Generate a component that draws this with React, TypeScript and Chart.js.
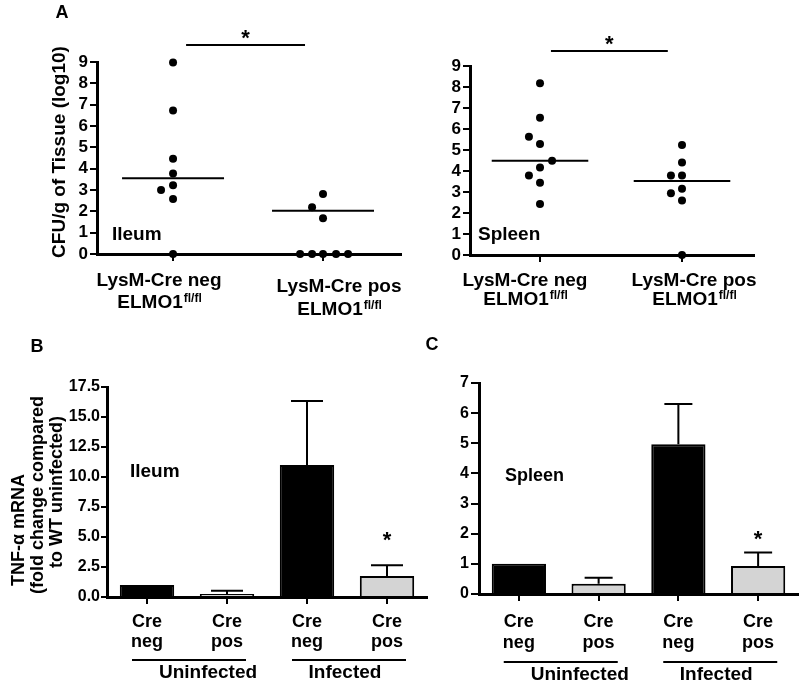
import React, { useEffect, useRef } from "react";
import { Chart, registerables } from "chart.js";

Chart.register(...registerables);

const FONT = '"Liberation Sans", Arial, Helvetica, sans-serif';
Chart.defaults.font.family = FONT;
Chart.defaults.color = "#000";

// ---------------- Panel A data (CFU/g of tissue, log10) ----------------
const groupLabelsA = ["LysM-Cre neg", "LysM-Cre pos"];
const genotypeText = "ELMO1";
const genotypeSup = "fl/fl";
const yTitleA = "CFU/g of Tissue (log10)";

const ileumNeg = [8.98, 6.73, 4.47, 3.77, 3.22, 3.0, 2.58, 0];
const ileumNegJitter = [0, 0, 0, 0, 0, -0.08, 0, 0];
const ileumPos = [2.81, 2.19, 1.67, 0, 0, 0, 0, 0];
const ileumPosJitter = [0, -0.073, 0, -0.153, -0.073, 0, 0.087, 0.167];
const ileumMedian = [3.55, 2.03];

const spleenNeg = [8.18, 6.54, 5.63, 5.29, 4.49, 4.17, 3.78, 3.44, 2.43];
const spleenNegJitter = [0, 0, -0.078, 0, 0.085, 0, -0.078, 0, 0];
const spleenPos = [5.24, 4.4, 3.78, 3.78, 3.16, 2.94, 2.59, 0];
const spleenPosJitter = [0, 0, -0.078, 0, 0, -0.078, 0, 0];
const spleenMedian = [4.49, 3.52];

// ---------------- Panel B / C data (TNF-α mRNA fold change) ----------------
const barGroups = ["Cre neg", "Cre pos", "Cre neg", "Cre pos"];
const infectionGroups = ["Uninfected", "Infected"];
const ileumTNF = [1.0, 0.25, 11.0, 1.75];
const ileumTNFsem = [0, 0.27, 5.33, 0.89];
const spleenTNF = [1.0, 0.34, 4.97, 0.93];
const spleenTNFsem = [0, 0.2, 1.33, 0.45];
const barColors = ["#000000", "#d4d4d4", "#000000", "#d4d4d4"];
const yTitleB = ["TNF-α mRNA", "(fold change compared", "to WT uninfected)"];

// ---------------- drawing helpers ----------------
function txt(ctx: CanvasRenderingContext2D, s: string, x: number, y: number, size: number, align: CanvasTextAlign = "center") {
  ctx.save();
  ctx.font = `bold ${size}px ${FONT}`;
  ctx.fillStyle = "#000";
  ctx.textAlign = align;
  ctx.textBaseline = "alphabetic";
  ctx.fillText(s, x, y);
  ctx.restore();
}

function rotText(ctx: CanvasRenderingContext2D, s: string, cx: number, cy: number, size: number) {
  ctx.save();
  ctx.translate(cx, cy);
  ctx.rotate(-Math.PI / 2);
  ctx.font = `bold ${size}px ${FONT}`;
  ctx.fillStyle = "#000";
  ctx.textAlign = "center";
  ctx.textBaseline = "middle";
  ctx.fillText(s, 0, 0);
  ctx.restore();
}

function genotype(ctx: CanvasRenderingContext2D, cx: number, y: number) {
  ctx.save();
  ctx.fillStyle = "#000";
  ctx.textBaseline = "alphabetic";
  ctx.textAlign = "left";
  ctx.font = `bold 19px ${FONT}`;
  const w1 = ctx.measureText(genotypeText).width;
  ctx.font = `bold 12px ${FONT}`;
  const w2 = ctx.measureText(genotypeSup).width;
  const x0 = cx - (w1 + w2) / 2;
  ctx.font = `bold 19px ${FONT}`;
  ctx.fillText(genotypeText, x0, y);
  ctx.font = `bold 12px ${FONT}`;
  ctx.fillText(genotypeSup, x0 + w1 + 1, y - 6);
  ctx.restore();
}

function star(ctx: CanvasRenderingContext2D, cx: number, cy: number, size = 22) {
  txt(ctx, "*", cx, cy + 0.58 * size, size);
}

function hline(ctx: CanvasRenderingContext2D, x1: number, x2: number, y: number, w = 2) {
  ctx.save();
  ctx.strokeStyle = "#000";
  ctx.lineWidth = w;
  ctx.beginPath();
  ctx.moveTo(x1, y);
  ctx.lineTo(x2, y);
  ctx.stroke();
  ctx.restore();
}

// ---------------- Panel A: scatter with medians ----------------
type ScatterSpec = {
  neg: number[]; negJ: number[]; pos: number[]; posJ: number[]; med: number[];
  xMin: number; xMax: number; yw: number; xh: number; top: number; right: number;
  sig: number[]; sigY: number;
  labelDx: number[]; labelY: number[][];
  draw: (chart: any) => void;
};

function makeScatter(canvas: HTMLCanvasElement, p: ScatterSpec) {
  const pts = [
    ...p.neg.map((y, i) => ({ x: 1 + p.negJ[i], y })),
    ...p.pos.map((y, i) => ({ x: 2 + p.posJ[i], y })),
  ];
  const medLine = (c: number, m: number) => ({
    type: "line" as const,
    data: [{ x: c - 0.34, y: m }, { x: c + 0.34, y: m }],
    borderColor: "#000", borderWidth: 2, pointRadius: 0, clip: false as any,
  });
  return new Chart(canvas, {
    type: "scatter",
    data: {
      datasets: [
        { data: pts, pointRadius: 4, pointHoverRadius: 4, backgroundColor: "#000", borderColor: "#000", borderWidth: 0, clip: false as any },
        medLine(1, p.med[0]) as any,
        medLine(2, p.med[1]) as any,
        {
          type: "line",
          data: [{ x: p.sig[0], y: p.sigY }, { x: p.sig[1], y: p.sigY }],
          borderColor: "#000", borderWidth: 2, pointRadius: 0, clip: false as any,
        } as any,
      ],
    },
    options: {
      animation: false,
      responsive: false,
      events: [],
      layout: { padding: { top: p.top, right: p.right, left: 0, bottom: 0 } },
      plugins: { legend: { display: false }, tooltip: { enabled: false } },
      scales: {
        x: {
          type: "linear", min: p.xMin, max: p.xMax,
          afterBuildTicks: (s: any) => { s.ticks = [{ value: 1 }, { value: 2 }]; },
          ticks: { display: false },
          grid: { drawOnChartArea: false, drawTicks: true, tickLength: 7, color: "#000", lineWidth: 2 },
          border: { display: true, color: "#000", width: 3 },
          afterFit: (s: any) => { s.height = p.xh; },
        },
        y: {
          min: 0, max: 9,
          ticks: { stepSize: 1, autoSkip: false, padding: 2, color: "#000", font: { size: 17, weight: "bold" } },
          grid: { drawOnChartArea: false, drawTicks: true, tickLength: 7, color: "#000", lineWidth: 2 },
          border: { display: true, color: "#000", width: 3 },
          afterFit: (s: any) => { s.width = p.yw; },
        },
      },
    } as any,
    plugins: [{
      id: "annotA",
      afterDraw(chart: any) {
        const ctx = chart.ctx as CanvasRenderingContext2D;
        const xs = chart.scales.x, ys = chart.scales.y;
        groupLabelsA.forEach((lab, i) => {
          const cx = xs.getPixelForValue(i + 1) + p.labelDx[i];
          txt(ctx, lab, cx, p.labelY[i][0], 19);
          genotype(ctx, cx, p.labelY[i][1]);
        });
        const sx = (xs.getPixelForValue(p.sig[0]) + xs.getPixelForValue(p.sig[1])) / 2;
        star(ctx, sx, ys.getPixelForValue(p.sigY) - 13);
        p.draw(chart);
      },
    }],
  });
}

// ---------------- Panel B / C: bars with SEM ----------------
type BarSpec = {
  vals: number[]; sem: number[]; max: number; step: number; fmt: (v: number) => string;
  yw: number; xh: number; top: number; right: number; tickLen: number; tickPad: number;
  cap: number; starVal: number; catY: number[]; grpLineY: number; grpTextY: number;
  draw: (chart: any) => void;
};

function makeBars(canvas: HTMLCanvasElement, p: BarSpec) {
  return new Chart(canvas, {
    type: "bar",
    data: {
      labels: barGroups,
      datasets: [{
        data: p.vals,
        backgroundColor: barColors,
        borderColor: "#000",
        borderWidth: 2,
        barPercentage: 0.68,
        categoryPercentage: 1,
        borderSkipped: "bottom",
      }],
    },
    options: {
      animation: false,
      responsive: false,
      events: [],
      layout: { padding: { top: p.top, right: p.right, left: 0, bottom: 0 } },
      plugins: { legend: { display: false }, tooltip: { enabled: false } },
      scales: {
        x: {
          offset: true,
          ticks: { display: false },
          grid: { offset: false, drawOnChartArea: false, drawTicks: true, tickLength: 7, color: "#000", lineWidth: 2 },
          border: { display: true, color: "#000", width: 3 },
          afterFit: (s: any) => { s.height = p.xh; },
        },
        y: {
          min: 0, max: p.max,
          ticks: { stepSize: p.step, autoSkip: false, padding: p.tickPad, color: "#000", font: { size: 16, weight: "bold" }, callback: (v: any) => p.fmt(Number(v)) },
          grid: { drawOnChartArea: false, drawTicks: true, tickLength: p.tickLen, color: "#000", lineWidth: 2 },
          border: { display: true, color: "#000", width: 3 },
          afterFit: (s: any) => { s.width = p.yw; },
        },
      },
    } as any,
    plugins: [{
      id: "annotBars",
      afterDraw(chart: any) {
        const ctx = chart.ctx as CanvasRenderingContext2D;
        const xs = chart.scales.x, ys = chart.scales.y;
        const meta = chart.getDatasetMeta(0);
        // SEM error bars (upper only)
        meta.data.forEach((el: any, i: number) => {
          if (!p.sem[i]) return;
          const yTop = ys.getPixelForValue(p.vals[i] + p.sem[i]);
          ctx.save();
          ctx.strokeStyle = "#000";
          ctx.lineWidth = 2;
          ctx.beginPath();
          ctx.moveTo(el.x, el.y);
          ctx.lineTo(el.x, yTop);
          ctx.moveTo(el.x - p.cap / 2, yTop);
          ctx.lineTo(el.x + p.cap / 2, yTop);
          ctx.stroke();
          ctx.restore();
        });
        // significance star over last bar
        star(ctx, xs.getPixelForValue(3), ys.getPixelForValue(p.starVal));
        // category labels
        barGroups.forEach((g, i) => {
          const [a, b] = g.split(" ");
          const cx = xs.getPixelForValue(i);
          txt(ctx, a, cx, p.catY[0], 18);
          txt(ctx, b, cx, p.catY[1], 18);
        });
        // infection group lines + labels
        infectionGroups.forEach((g, k) => {
          const mid = (xs.getPixelForValue(2 * k) + xs.getPixelForValue(2 * k + 1)) / 2 + 2;
          hline(ctx, mid - 57, mid + 57, p.grpLineY, 2);
          txt(ctx, g, mid + (k === 0 ? 19 : -4), p.grpTextY, 19);
        });
        p.draw(chart);
      },
    }],
  });
}

// ---------------- React wrappers ----------------
function ChartCanvas(props: { left: number; top: number; width: number; height: number; make: (c: HTMLCanvasElement) => Chart }) {
  const ref = useRef<HTMLCanvasElement>(null);
  useEffect(() => {
    const chart = props.make(ref.current as HTMLCanvasElement);
    return () => chart.destroy();
  }, []);
  return (
    <canvas
      ref={ref}
      width={props.width}
      height={props.height}
      style={{ position: "absolute", left: props.left, top: props.top, width: props.width, height: props.height }}
    />
  );
}

export default function App() {
  return (
    <div style={{ position: "fixed", left: 0, top: 0, width: 800, height: 684, background: "#fff", overflow: "hidden" }}>
      <ChartCanvas
        left={0} top={0} width={405} height={320}
        make={(c) => makeScatter(c, {
          neg: ileumNeg, negJ: ileumNegJitter, pos: ileumPos, posJ: ileumPosJitter, med: ileumMedian,
          xMin: 0.493, xMax: 2.52, yw: 97, xh: 66, top: 62, right: 4,
          sig: [1.087, 1.88], sigY: 9.8,
          labelDx: [-14, 16], labelY: [[286, 308], [292, 315]],
          draw: (chart) => {
            const ctx = chart.ctx;
            txt(ctx, "A", 62, 18, 18);
            rotText(ctx, yTitleA, 60, 152, 19);
            txt(ctx, "Ileum", 112, 240, 19, "left");
          },
        })}
      />
      <ChartCanvas
        left={400} top={0} width={400} height={320}
        make={(c) => makeScatter(c, {
          neg: spleenNeg, negJ: spleenNegJitter, pos: spleenPos, posJ: spleenPosJitter, med: spleenMedian,
          xMin: 0.507, xMax: 2.507, yw: 70, xh: 65, top: 66, right: 46,
          sig: [1.077, 1.9], sigY: 9.71,
          labelDx: [-15, 12], labelY: [[286, 305], [286, 305]],
          draw: (chart) => {
            txt(chart.ctx, "Spleen", 78, 240, 19, "left");
          },
        })}
      />
      <ChartCanvas
        left={0} top={320} width={432} height={364}
        make={(c) => makeBars(c, {
          vals: ileumTNF, sem: ileumTNFsem, max: 17.5, step: 2.5, fmt: (v) => v.toFixed(1),
          yw: 107, xh: 87, top: 67, right: 5, tickLen: 6, tickPad: 1,
          cap: 32, starVal: 5.25, catY: [307, 327], grpLineY: 340, grpTextY: 358,
          draw: (chart) => {
            const ctx = chart.ctx;
            txt(ctx, "B", 37, 32, 18);
            rotText(ctx, yTitleB[0], 19, 210, 18);
            rotText(ctx, yTitleB[1], 38, 175, 18);
            rotText(ctx, yTitleB[2], 57, 172, 18);
            txt(ctx, "Ileum", 130, 157, 19, "left");
          },
        })}
      />
      <ChartCanvas
        left={420} top={320} width={380} height={364}
        make={(c) => makeBars(c, {
          vals: spleenTNF, sem: spleenTNFsem, max: 7, step: 1, fmt: (v) => String(v),
          yw: 59, xh: 90, top: 63, right: 2, tickLen: 8, tickPad: 2,
          cap: 28, starVal: 2.02, catY: [307, 328], grpLineY: 342, grpTextY: 360,
          draw: (chart) => {
            const ctx = chart.ctx;
            txt(ctx, "C", 12, 30, 18);
            txt(ctx, "Spleen", 85, 161, 18, "left");
          },
        })}
      />
    </div>
  );
}
